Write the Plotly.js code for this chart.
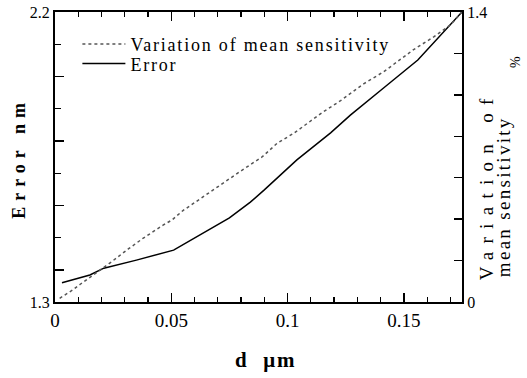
<!DOCTYPE html>
<html>
<head>
<meta charset="utf-8">
<script src="https://cdn.plot.ly/plotly-3.0.1.min.js"></script>
<style>
html,body{margin:0;padding:0;background:#fff;}
#chart{width:527px;height:378px;}
</style>
</head>
<body>
<div id="chart"></div>
<script>
// Error (left axis, nm) vs d (µm)
const errX = [0.003, 0.015, 0.021, 0.035, 0.051, 0.06, 0.075, 0.084, 0.09, 0.104, 0.1185, 0.127, 0.136, 0.1414, 0.156, 0.175];
const errY = [1.36, 1.384, 1.405, 1.43, 1.461, 1.499, 1.561, 1.61, 1.648, 1.741, 1.825, 1.88, 1.935, 1.965, 2.051, 2.2];

// Variation of mean sensitivity (right axis, %) vs d (µm)
const sensX = [0.002, 0.0076, 0.011, 0.0158, 0.021, 0.0244, 0.0315, 0.0378, 0.0466, 0.0503, 0.055, 0.061, 0.0668, 0.0746, 0.0805, 0.089, 0.0955, 0.1027, 0.1106, 0.1155, 0.1228, 0.1327, 0.1414, 0.154, 0.163, 0.170, 0.175];
const sensY = [0.018, 0.058, 0.087, 0.125, 0.169, 0.195, 0.256, 0.307, 0.372, 0.396, 0.441, 0.488, 0.533, 0.592, 0.637, 0.70, 0.766, 0.815, 0.879, 0.919, 0.972, 1.053, 1.112, 1.217, 1.281, 1.337, 1.4];

// Tick positions / labels
const xTickVals = [0, 0.05, 0.1, 0.15];
const xTickText = ['0', '0.05', '0.1', '0.15'];
const yTickVals = [1.3, 1.4, 1.6, 1.8, 2.0, 2.2];
const yTickText = ['1.3', '', '', '', '', '2.2'];
const y2TickVals = [0, 0.2, 0.4, 0.6, 0.8, 1.0, 1.2, 1.4];
const y2TickText = ['0', '', '', '', '', '', '', '1.4'];

const serif = 'Liberation Serif, Times New Roman, serif';

const traces = [
  {
    x: sensX, y: sensY, yaxis: 'y2', type: 'scatter', mode: 'lines',
    name: 'Variation of mean sensitivity',
    line: {color: '#555', width: 1.5, dash: 'dot'}
  },
  {
    x: errX, y: errY, type: 'scatter', mode: 'lines',
    name: 'Error',
    line: {color: '#000', width: 1.5}
  }
];

const layout = {
  width: 527, height: 378,
  margin: {l: 55, r: 65, t: 12, b: 76, pad: 0},
  paper_bgcolor: '#fff', plot_bgcolor: '#fff',
  font: {family: serif, color: '#000'},
  showlegend: true,
  legend: {
    x: 0.055, y: 0.952, xanchor: 'left', yanchor: 'top',
    bgcolor: 'rgba(0,0,0,0)', borderwidth: 0,
    font: {family: serif, size: 18, color: '#000'},
    itemwidth: 43, tracegroupgap: 0
  },
  xaxis: {
    range: [0, 0.175], showgrid: false, zeroline: false,
    showline: true, linecolor: '#000', linewidth: 2, mirror: 'ticks',
    ticks: 'inside', ticklen: 9, tickwidth: 1.5, tickcolor: '#000',
    tickvals: xTickVals, ticktext: xTickText,
    tickfont: {family: serif, size: 19, color: '#000'},
    minor: {dtick: 0.01, tick0: 0, ticks: 'inside', ticklen: 5, tickwidth: 1.2, tickcolor: '#000'}
  },
  yaxis: {
    range: [1.3, 2.2], showgrid: false, zeroline: false,
    showline: true, linecolor: '#000', linewidth: 2,
    ticks: 'inside', ticklen: 9, tickwidth: 1.5, tickcolor: '#000',
    tickvals: yTickVals, ticktext: yTickText,
    tickfont: {family: serif, size: 16, color: '#000'},
    minor: {dtick: 0.1, tick0: 1.3, ticks: 'inside', ticklen: 6, tickwidth: 1.2, tickcolor: '#000'}
  },
  yaxis2: {
    range: [0, 1.4], overlaying: 'y', side: 'right',
    showgrid: false, zeroline: false,
    showline: true, linecolor: '#000', linewidth: 2,
    ticks: 'inside', ticklen: 8, tickwidth: 1.5, tickcolor: '#000',
    tickvals: y2TickVals, ticktext: y2TickText,
    tickfont: {family: serif, size: 16, color: '#000'}
  },
  annotations: [
    {text: '<b>Error nm</b>', xref: 'paper', yref: 'paper', x: -0.0885, y: 0.497,
     xanchor: 'center', yanchor: 'middle', textangle: -90, showarrow: false,
     font: {family: serif, size: 18, color: '#000'}},
    {text: '<b>d  μm</b>', xref: 'paper', yref: 'paper', x: 0.518, y: -0.2,
     xanchor: 'center', yanchor: 'middle', showarrow: false,
     font: {family: serif, size: 21, color: '#000'}},
    {text: 'Variation of', xref: 'paper', yref: 'paper', x: 1.061, y: 0.405,
     xanchor: 'center', yanchor: 'middle', textangle: -90, showarrow: false,
     font: {family: serif, size: 19, color: '#000'}},
    {text: 'mean sensitivity', xref: 'paper', yref: 'paper', x: 1.103, y: 0.366,
     xanchor: 'center', yanchor: 'middle', textangle: -90, showarrow: false,
     font: {family: serif, size: 19, color: '#000'}},
    {text: '%', xref: 'paper', yref: 'paper', x: 1.133, y: 0.828,
     xanchor: 'center', yanchor: 'middle', textangle: -90, showarrow: false,
     font: {family: serif, size: 14, color: '#000'}}
  ]
};

Plotly.newPlot('chart', traces, layout, {displayModeBar: false, staticPlot: true}).then(function(gd){
  const spacing = [6, 2, 8.3, 2.3, 0];
  gd.querySelectorAll('.annotation-text').forEach(function(t, i){
    if (spacing[i]) t.setAttribute('letter-spacing', spacing[i] + 'px');
  });
  // let the wider legend text show in full
  gd.querySelectorAll('.legend [clip-path], .legend').forEach(function(el){ el.removeAttribute('clip-path'); });
  gd.querySelectorAll('.legendtext').forEach(function(t){ t.setAttribute('letter-spacing', '1.8px'); });
  // tighten the legend rows to match the reference spacing
  const items = gd.querySelectorAll('.legend .traces');
  items.forEach(function(g, i){
    const tr = g.getAttribute('transform') || '';
    const m = tr.match(/translate\(\s*([-\d.]+)[ ,]+([-\d.]+)\s*\)/);
    if (m && i > 0) {
      g.setAttribute('transform', 'translate(' + m[1] + ',' + (parseFloat(m[2]) - 7 * i) + ')');
    }
  });
});
</script>
</body>
</html>
